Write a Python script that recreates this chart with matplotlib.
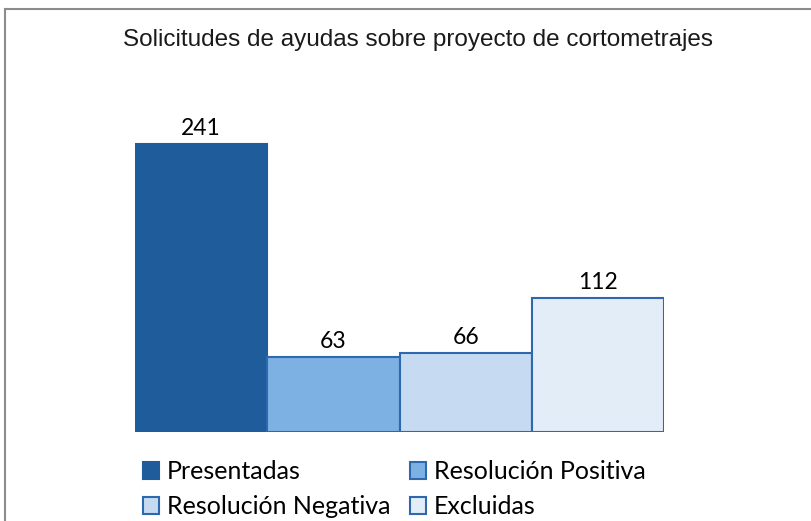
import matplotlib.pyplot as plt
from matplotlib.lines import Line2D

# data
categorias = ['Presentadas', 'Resolución Positiva', 'Resolución Negativa', 'Excluidas']
valores = [241, 63, 66, 112]
colores = ['#1F5C9B', '#7EB1E3', '#C6DBF1', '#E3EDF8']
bordes = ['#1F5C9B', '#2D69AC', '#2D69AC', '#2D69AC']
titulo = 'Solicitudes de ayudas sobre proyecto de cortometrajes'

plt.rcParams['font.family'] = ['Lato', 'DejaVu Sans']

fig = plt.figure(figsize=(8.11, 5.21), dpi=100)
W, H = 811, 521

# outer chart border (left and top edges visible)
fig.add_artist(Line2D([5 / W, 5 / W], [0, 1 - 9 / H], color='#8C8C8C', lw=1.5))
fig.add_artist(Line2D([5 / W, 1], [1 - 9 / H, 1 - 9 / H], color='#8C8C8C', lw=1.5))

ax = fig.add_axes([135 / W, 1 - 432 / H, 529 / W, (432 - 97.4) / H])
bars = []
for i, (cat, v) in enumerate(zip(categorias, valores)):
    b = ax.bar(i, v, width=1.0, color=colores[i], edgecolor=bordes[i], linewidth=1.5, label=cat)
    bars.append(b)
    ax.text(i, v + 4, str(v), ha='center', va='bottom', fontsize=16.5, color='black')

ax.set_xlim(-0.5, 3.5)
ax.set_ylim(0, 280)
ax.axis('off')

fig.text(418 / W, 1 - 40 / H, titulo, ha='center', va='center', fontsize=17.5,
         family=['Liberation Sans', 'DejaVu Sans'], color='#1A1A1A')

orden = [0, 2, 1, 3]
leg = fig.legend([bars[i] for i in orden], [categorias[i] for i in orden], ncol=2,
                 loc='upper left', bbox_to_anchor=(133 / W, 1 - 450 / H), frameon=False,
                 fontsize=18, handlelength=0.65, handleheight=0.65, handletextpad=0.3,
                 columnspacing=0.78, labelspacing=0.5, borderaxespad=0)

fig.savefig('out.png', dpi=100)
